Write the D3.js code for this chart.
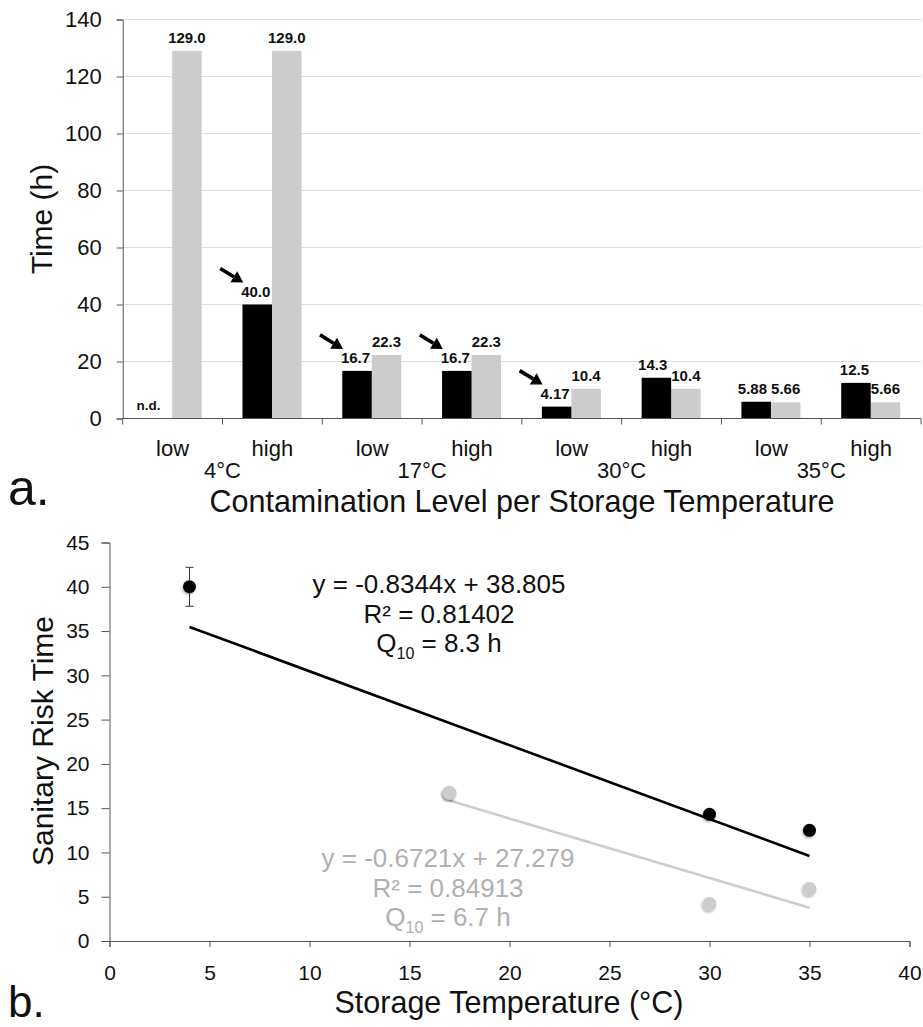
<!DOCTYPE html>
<html>
<head>
<meta charset="utf-8">
<script src="https://cdn.jsdelivr.net/npm/d3@7"></script>
<style>
  html, body { margin: 0; padding: 0; background: #fff; }
  svg { display: block; font-family: "Liberation Sans", Arial, sans-serif; }
</style>
</head>
<body>
<svg id="chart" width="923" height="1027"></svg>
<script>
// ---- Panel a: sanitary risk time per contamination level and storage temperature ----
const temperatures = ["4°C", "17°C", "30°C", "35°C"];
const levels = ["low", "high"];
const blackValues = [null, 40.0, 16.7, 16.7, 4.17, 14.3, 5.88, 12.5];
const blackLabels = ["n.d.", "40.0", "16.7", "16.7", "4.17", "14.3", "5.88", "12.5"];
const grayValues = [129.0, 129.0, 22.3, 22.3, 10.4, 10.4, 5.66, 5.66];
const grayLabels = ["129.0", "129.0", "22.3", "22.3", "10.4", "10.4", "5.66", "5.66"];
const arrowed = [false, true, true, true, true, false, false, false];
const yTicksA = [0, 20, 40, 60, 80, 100, 120, 140];

// ---- Panel b: regression of sanitary risk time on storage temperature ----
const blackTempX = [4, 17, 30, 35];
const blackTimeY = [40.0, 16.7, 14.3, 12.5];
const blackErr = [2.2, 0, 0, 0];
const grayTempX = [17, 30, 35];
const grayTimeY = [16.7, 4.17, 5.88];
const blackFit = [-0.8344, 38.805];
const grayFit = [-0.6721, 27.279];
const blackFitText = ["y = -0.8344x + 38.805", "R² = 0.81402", "8.3 h"];
const grayFitText = ["y = -0.6721x + 27.279", "R² = 0.84913", "6.7 h"];
const xTicksB = [0, 5, 10, 15, 20, 25, 30, 35, 40];
const yTicksB = [0, 5, 10, 15, 20, 25, 30, 35, 40, 45];

const BLACK = "#000";
const GRAY = "#cccccc";
const GRAY_TEXT = "#b0b0b0";
const AXIS = "#555";
const INK = "#111";

const svg = d3.select("#chart");

const defs = svg.append("defs");
const shadow = defs.append("filter").attr("id", "soft")
  .attr("x", "-50%").attr("y", "-50%").attr("width", "200%").attr("height", "200%");
shadow.append("feDropShadow").attr("dx", -1).attr("dy", 1.5).attr("stdDeviation", 1)
  .attr("flood-color", "#000").attr("flood-opacity", 0.3);

function styleAxis(g, size) {
  g.select(".domain").attr("stroke", AXIS);
  g.selectAll(".tick line").attr("stroke", AXIS);
  g.selectAll(".tick text").attr("font-size", size).attr("fill", INK)
    .attr("font-family", "Liberation Sans, Arial, sans-serif");
}

// ================= Panel a =================
const cats = d3.range(blackValues.length);
const xA = d3.scaleBand().domain(cats).range([122.7, 921]);
const inner = d3.scaleBand().domain(["black", "gray"]).range([20, 79]);
const yA = d3.scaleLinear().domain([0, 140]).range([418.5, 19.5]);

const gA = svg.append("g");

// horizontal gridlines
gA.append("g").selectAll("line").data(yTicksA.filter(d => d > 0)).join("line")
  .attr("x1", 122.7).attr("x2", 921)
  .attr("y1", d => yA(d)).attr("y2", d => yA(d))
  .attr("stroke", "#dedede").attr("stroke-width", 1);

// y axis
const yAG = gA.append("g").attr("transform", "translate(122.7,0)")
  .call(d3.axisLeft(yA).tickValues(yTicksA).tickSize(6).tickPadding(15));
styleAxis(yAG, 22);

// bars
gA.append("g").selectAll("rect").data(cats.filter(i => grayValues[i] != null)).join("rect")
  .attr("x", i => xA(i) + inner("gray")).attr("width", inner.bandwidth())
  .attr("y", i => yA(grayValues[i])).attr("height", i => yA(0) - yA(grayValues[i]))
  .attr("fill", GRAY);
gA.append("g").selectAll("rect").data(cats.filter(i => blackValues[i] != null)).join("rect")
  .attr("x", i => xA(i) + inner("black")).attr("width", inner.bandwidth())
  .attr("y", i => yA(blackValues[i])).attr("height", i => yA(0) - yA(blackValues[i]))
  .attr("fill", BLACK);

// x axis with ticks at the band edges
const edges = cats.map(i => xA(i)).concat([xA(cats.length - 1) + xA.bandwidth()]);
const xAxisA = gA.append("g");
xAxisA.append("line").attr("x1", 122.7).attr("x2", 921).attr("y1", yA(0)).attr("y2", yA(0)).attr("stroke", AXIS);
xAxisA.selectAll("line.tk").data(edges).join("line").attr("class", "tk")
  .attr("x1", d => d).attr("x2", d => d)
  .attr("y1", yA(0)).attr("y2", yA(0) + 6).attr("stroke", AXIS);

// value labels
const labelFont = 15;
const grayText = gA.append("g").selectAll("text").data(cats).join("text")
  .attr("x", i => xA(i) + inner("gray") + inner.bandwidth() / 2)
  .attr("y", i => yA(grayValues[i]) - 8)
  .attr("text-anchor", "middle").attr("font-size", labelFont).attr("font-weight", "bold").attr("fill", INK)
  .text(i => grayLabels[i]);
const blackText = gA.append("g").selectAll("text").data(cats).join("text")
  .attr("x", i => xA(i) + inner("black") + inner.bandwidth() / 2 - (blackValues[i] == null ? 9 : 1.5))
  .attr("y", i => blackValues[i] == null ? yA(0) - 9 : yA(blackValues[i]) - 8)
  .attr("text-anchor", "middle")
  .attr("font-size", i => blackValues[i] == null ? 13.5 : labelFont).attr("font-weight", "bold").attr("fill", INK)
  .text(i => blackLabels[i]);

// keep neighbouring value labels apart: nudge the black-bar label left when it touches the grey one
const grayNodes = grayText.nodes();
blackText.each(function (i) {
  if (blackValues[i] == null) return;
  const b = this.getBBox(), g = grayNodes[i].getBBox();
  const vOverlap = b.y < g.y + g.height - 2 && g.y < b.y + b.height - 2;
  const gap = g.x - (b.x + b.width);
  if (vOverlap && gap < 4) {
    d3.select(this).attr("x", +d3.select(this).attr("x") - (4 - gap));
  }
});

// arrows pointing at the sanitary risk values
const arrowG = gA.append("g");
cats.filter(i => arrowed[i]).forEach(i => {
  const cx = xA(i) + inner("black") + inner.bandwidth() / 2;
  const top = yA(blackValues[i]);
  const tx = cx - 14, ty = top - 22;      // arrow tip
  const sx = tx - 23, sy = ty - 14;       // arrow tail
  const ang = Math.atan2(ty - sy, tx - sx);
  const hl = 11, hw = 6.5;
  const bx = tx - hl * Math.cos(ang), by = ty - hl * Math.sin(ang);
  arrowG.append("line").attr("x1", sx).attr("y1", sy).attr("x2", bx).attr("y2", by)
    .attr("stroke", BLACK).attr("stroke-width", 3.6);
  const px = -Math.sin(ang), py = Math.cos(ang);
  arrowG.append("path")
    .attr("d", `M${tx},${ty}L${bx + px * hw},${by + py * hw}L${bx - px * hw},${by - py * hw}Z`)
    .attr("fill", BLACK);
});

// category labels
gA.append("g").selectAll("text").data(cats).join("text")
  .attr("x", i => xA(i) + xA.bandwidth() / 2)
  .attr("y", 456)
  .attr("text-anchor", "middle").attr("font-size", 22).attr("fill", INK)
  .text(i => levels[i % 2]);
gA.append("g").selectAll("text").data(temperatures).join("text")
  .attr("x", (d, k) => xA(2 * k + 1))
  .attr("y", 478)
  .attr("text-anchor", "middle").attr("font-size", 22).attr("fill", INK)
  .text(d => d);

// axis titles
gA.append("text").attr("transform", "translate(52,219) rotate(-90)")
  .attr("text-anchor", "middle").attr("font-size", 30).attr("fill", INK).text("Time (h)");
gA.append("text").attr("x", 522).attr("y", 512)
  .attr("text-anchor", "middle").attr("font-size", 30.5).attr("fill", INK)
  .text("Contamination Level per Storage Temperature");
gA.append("text").attr("x", 8).attr("y", 505).attr("font-size", 50).attr("fill", INK).text("a.");

// ================= Panel b =================
const xB = d3.scaleLinear().domain([0, 40]).range([109.5, 909.5]);
const yB = d3.scaleLinear().domain([0, 45]).range([941, 542.5]);
const gB = svg.append("g");

const xBG = gB.append("g").attr("transform", `translate(0,${yB(0)})`)
  .call(d3.axisBottom(xB).tickValues(xTicksB).tickSize(6).tickPadding(18));
const yBG = gB.append("g").attr("transform", `translate(${xB(0)},0)`)
  .call(d3.axisLeft(yB).tickValues(yTicksB).tickSize(8).tickPadding(12));
styleAxis(xBG, 21);
styleAxis(yBG, 21);

// trend lines
const fitLine = (fit, xs) => [d3.min(xs), d3.max(xs)].map(x => [xB(x), yB(fit[0] * x + fit[1])]);
gB.append("path").attr("d", d3.line()(fitLine(blackFit, blackTempX)))
  .attr("stroke", BLACK).attr("stroke-width", 2.6).attr("fill", "none");
gB.append("path").attr("d", d3.line()(fitLine(grayFit, grayTempX)))
  .attr("stroke", GRAY).attr("stroke-width", 2.6).attr("fill", "none");

// error bars
const errG = gB.append("g").attr("stroke", "#333").attr("stroke-width", 1);
blackTempX.forEach((x, i) => {
  if (!blackErr[i]) return;
  const cx = xB(x), y1 = yB(blackTimeY[i] + blackErr[i]), y2 = yB(blackTimeY[i] - blackErr[i]);
  errG.append("line").attr("x1", cx).attr("x2", cx).attr("y1", y1).attr("y2", y2);
  errG.append("line").attr("x1", cx - 4).attr("x2", cx + 4).attr("y1", y1).attr("y2", y1);
  errG.append("line").attr("x1", cx - 4).attr("x2", cx + 4).attr("y1", y2).attr("y2", y2);
});

// points
gB.append("g").selectAll("circle").data(blackTempX).join("circle")
  .attr("cx", d => xB(d)).attr("cy", (d, i) => yB(blackTimeY[i])).attr("r", 6.5)
  .attr("fill", BLACK).attr("filter", "url(#soft)");
gB.append("g").selectAll("circle").data(grayTempX).join("circle")
  .attr("cx", d => xB(d)).attr("cy", (d, i) => yB(grayTimeY[i])).attr("r", 7)
  .attr("fill", GRAY).attr("filter", "url(#soft)");

// regression annotations
function annot(lines, cx, y0, color) {
  const t = gB.append("g").attr("fill", color).attr("font-size", 26).attr("text-anchor", "middle");
  t.append("text").attr("x", cx).attr("y", y0).text(lines[0]);
  t.append("text").attr("x", cx).attr("y", y0 + 30).text(lines[1]);
  const q = t.append("text").attr("x", cx).attr("y", y0 + 59);
  q.append("tspan").text("Q");
  q.append("tspan").attr("font-size", 16).attr("dy", 7).text("10");
  q.append("tspan").attr("dy", -7).text(" = " + lines[2]);
}
annot(blackFitText, 439, 593, INK);
annot(grayFitText, 448, 867, GRAY_TEXT);

// axis titles
gB.append("text").attr("transform", "translate(53,741) rotate(-90)")
  .attr("text-anchor", "middle").attr("font-size", 30).attr("fill", INK).text("Sanitary Risk Time");
gB.append("text").attr("x", 509).attr("y", 1013)
  .attr("text-anchor", "middle").attr("font-size", 30.5).attr("fill", INK).text("Storage Temperature (°C)");
gB.append("text").attr("x", 8).attr("y", 1017).attr("font-size", 44).attr("fill", INK).text("b.");
</script>
</body>
</html>
